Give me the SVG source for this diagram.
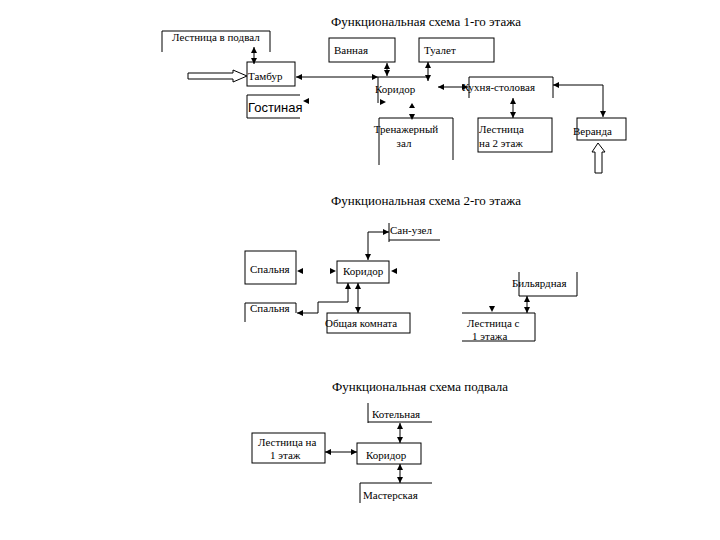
<svg xmlns="http://www.w3.org/2000/svg" width="720" height="540" viewBox="0 0 720 540">
<style>
.b{fill:none;stroke:#000;stroke-width:1}
.t{font-family:"Liberation Serif","Times New Roman",serif;font-size:11px;fill:#000}
.s{font-family:"Liberation Sans",Arial,sans-serif;font-size:13px;fill:#000}
.h{font-family:"Liberation Serif","Times New Roman",serif;font-size:13px;fill:#000;text-anchor:middle}
.c{fill:none;stroke:#000;stroke-width:1;marker-start:url(#a);marker-end:url(#a)}
.c1{fill:none;stroke:#000;stroke-width:1;marker-start:url(#a)}
.ah{fill:#000}
.hol{fill:#fff;stroke:#000;stroke-width:1}
</style>
<defs>
<marker id="a" viewBox="0 0 6 6" refX="6" refY="3" markerWidth="6" markerHeight="6" markerUnits="userSpaceOnUse" orient="auto-start-reverse">
<path d="M0,0 L6,3 L0,6 z" fill="#000"/>
</marker>
</defs>
<rect width="720" height="540" fill="#fff"/>

<text class="h" x="426" y="26">Функциональная схема 1-го этажа</text>
<text class="h" x="426" y="205">Функциональная схема 2-го этажа</text>
<text class="h" x="420" y="391">Функциональная схема подвала</text>

<g id="n-podval"><path class="b" d="M162,52 V31 H270 V52"/><text class="t" x="172" y="41">Лестница в подвал</text></g>
<g id="n-tambur"><rect class="b" x="247" y="62" width="48" height="24"/><text class="t" x="248" y="80">Тамбур</text></g>
<g id="n-gostinaya"><path class="b" d="M300,95 H247 V118 H300"/><text class="s" x="248" y="112">Гостиная</text></g>
<g id="n-vannaya"><rect class="b" x="329" y="38" width="66" height="24"/><text class="t" x="334" y="54">Ванная</text></g>
<g id="n-tualet"><rect class="b" x="419" y="38" width="75" height="24"/><text class="t" x="424" y="54">Туалет</text></g>
<g id="n-koridor1"><path class="b" d="M378,77 V103"/><text class="t" x="375" y="93">Коридор</text></g>
<g id="n-kuhnya"><path class="b" d="M469,98 V77 H553 V98"/><text class="t" x="462" y="91">Кухня-столовая</text></g>
<g id="n-trenazh"><path class="b" d="M379,165 V118 H453 V160"/><text class="t" x="406" y="133" text-anchor="middle">Тренажерный</text><text class="t" x="404" y="147" text-anchor="middle">зал</text></g>
<g id="n-lest2"><rect class="b" x="478" y="118" width="74" height="34"/><text class="t" x="479" y="133">Лестница</text><text class="t" x="479" y="147">на 2 этаж</text></g>
<g id="n-veranda"><rect class="b" x="577" y="118" width="49" height="22"/><text class="t" x="573" y="135">Веранда</text></g>

<g id="n-sanuzel"><path class="b" d="M389,223 V242 M389,240 H440"/><text class="t" x="390" y="234">Сан-узел</text></g>
<g id="n-koridor2"><rect class="b" x="337" y="261" width="52" height="22"/><text class="t" x="343" y="275">Коридор</text></g>
<g id="n-spalnya1"><rect class="b" x="245" y="251" width="51" height="33"/><text class="t" x="250" y="273">Спальня</text></g>
<g id="n-spalnya2"><path class="b" d="M245,322 V303 H296 V313"/><text class="t" x="250" y="312">Спальня</text></g>
<g id="n-obshaya"><rect class="b" x="327" y="313" width="83" height="20"/><text class="t" x="325" y="327">Общая комната</text></g>
<g id="n-bilyard"><path class="b" d="M519,272 V296 H577 V272"/><text class="t" x="512" y="287">Бильярдная</text></g>
<g id="n-lest1"><path class="b" d="M462,313 H535 V341 H462"/><text class="t" x="467" y="327">Лестница с</text><text class="t" x="472" y="340">1 этажа</text></g>

<g id="n-kotelnaya"><path class="b" d="M368,403 V423 M368,422 H432"/><text class="t" x="372" y="418">Котельная</text></g>
<g id="n-koridor3"><rect class="b" x="357" y="443" width="64" height="21"/><text class="t" x="366" y="459">Коридор</text></g>
<g id="n-lestpodval"><rect class="b" x="252" y="433" width="73" height="30"/><text class="t" x="258" y="446">Лестница на</text><text class="t" x="270" y="459">1 этаж</text></g>
<g id="n-master"><path class="b" d="M360,503 V483 H432"/><text class="t" x="363" y="499">Мастерская</text></g>

<g id="connectors">
<path class="c" d="M254,47 V64"/>
<path class="c1" d="M296,77 H428"/>
<polygon class="ah" points="372,74 378,77 372,80"/>
<path class="c" d="M387,63 V76"/>
<path class="c" d="M428,62 V81"/>
<path class="c" d="M438,87 H468"/>
<path class="c" d="M553,85 H603 V117"/>
<path class="c" d="M513,98 V118"/>
<polygon class="ah" points="412,103 415,108 409,108"/>
<polygon class="ah" points="409,114 415,114 412,120"/>
<polygon class="ah" points="303,101 309,98 309,104"/>
<polygon class="ah" points="386,102 380,99 380,105"/>
<path class="hol" d="M188,73 H233 V70 L247,76 L233,82 V79 H188 Z"/>
<path class="hol" d="M598,143 L605,152 H602 V173 H595 V152 H592 Z"/>

<path class="c" d="M368,260 V232 H389"/>
<polygon class="ah" points="297,271 303,268 303,274"/>
<polygon class="ah" points="336,271 330,268 330,274"/>
<polygon class="ah" points="391,271 397,268 397,274"/>
<path class="c" d="M348,283 V302 H318 V313 H297"/>
<path class="c" d="M358,283 V313"/>
<path class="c" d="M527,296 V313"/>
<polygon class="ah" points="489,306 495,306 492,312"/>

<path class="c" d="M400,423 V443"/>
<path class="c" d="M325,452 H357"/>
<path class="c" d="M400,464 V483"/>
</g>
</svg>
